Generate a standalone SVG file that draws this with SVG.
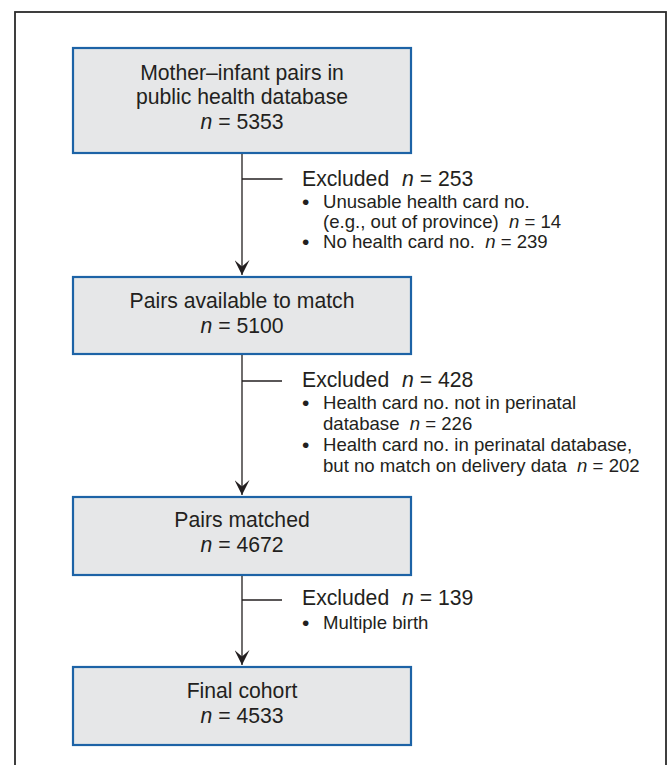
<svg xmlns="http://www.w3.org/2000/svg" width="669" height="765" viewBox="0 0 669 765">
  <style>
    .frame { fill: #ffffff; stroke: #2b2b2b; stroke-width: 1.8; }
    .box { fill: #e6e7e8; stroke: #1d63a6; stroke-width: 2.2; }
    .t { font-family: "Liberation Sans", Arial, sans-serif; fill: #231f20; }
    .main { font-size: 21.2px; text-anchor: middle; }
    .ex { font-size: 21.2px; }
    .bl { font-size: 18.6px; }
    .dot { font-size: 21px; }
    .i { font-style: italic; }
    .conn { stroke: #231f20; stroke-width: 1.3; fill: none; }
  </style>
  <defs>
    <marker id="arrow" viewBox="0 0 15 15" refX="15" refY="7.5" markerWidth="15" markerHeight="15" markerUnits="userSpaceOnUse" orient="auto">
      <path d="M0,0 L15,7.5 L0,15 L6.5,7.5 Z" fill="#231f20"/>
    </marker>
  </defs>

  <rect class="frame" x="15" y="12" width="651" height="770"/>

  <g id="node-database">
    <rect class="box" x="73" y="48" width="338" height="105"/>
    <text class="t main" x="242" y="79.5">Mother–infant pairs in</text>
    <text class="t main" x="242" y="104">public health database</text>
    <text class="t main" x="242" y="128.5"><tspan class="i">n</tspan> = 5353</text>
  </g>

  <g id="node-available">
    <rect class="box" x="73" y="277" width="338" height="77"/>
    <text class="t main" x="242" y="308">Pairs available to match</text>
    <text class="t main" x="242" y="332.5"><tspan class="i">n</tspan> = 5100</text>
  </g>

  <g id="node-matched">
    <rect class="box" x="73" y="497" width="338" height="78"/>
    <text class="t main" x="242" y="527">Pairs matched</text>
    <text class="t main" x="242" y="551.5"><tspan class="i">n</tspan> = 4672</text>
  </g>

  <g id="node-final">
    <rect class="box" x="73" y="667" width="338" height="78"/>
    <text class="t main" x="242" y="698">Final cohort</text>
    <text class="t main" x="242" y="722.5"><tspan class="i">n</tspan> = 4533</text>
  </g>

  <g id="excluded-1">
    <text class="t ex" x="302" y="186">Excluded <tspan class="i" dx="7">n</tspan> = 253</text>
    <text class="t dot" x="302" y="209">•</text>
    <text class="t bl" x="323" y="208">Unusable health card no.</text>
    <text class="t bl" x="323" y="228">(e.g., out of province) <tspan class="i" dx="5">n</tspan> = 14</text>
    <text class="t dot" x="302" y="249">•</text>
    <text class="t bl" x="323" y="248">No health card no. <tspan class="i" dx="5">n</tspan> = 239</text>
  </g>

  <g id="excluded-2">
    <text class="t ex" x="302" y="387">Excluded <tspan class="i" dx="7">n</tspan> = 428</text>
    <text class="t dot" x="302" y="410">•</text>
    <text class="t bl" x="323" y="409">Health card no. not in perinatal</text>
    <text class="t bl" x="323" y="430">database <tspan class="i" dx="5">n</tspan> = 226</text>
    <text class="t dot" x="302" y="452">•</text>
    <text class="t bl" x="323" y="451">Health card no. in perinatal database,</text>
    <text class="t bl" x="323" y="472">but no match on delivery data <tspan class="i" dx="5">n</tspan> = 202</text>
  </g>

  <g id="excluded-3">
    <text class="t ex" x="302" y="605">Excluded <tspan class="i" dx="7">n</tspan> = 139</text>
    <text class="t dot" x="302" y="630">•</text>
    <text class="t bl" x="323" y="629">Multiple birth</text>
  </g>

  <g id="connectors">
    <line class="conn" x1="242" y1="154" x2="242" y2="275" marker-end="url(#arrow)"/>
    <line class="conn" x1="242" y1="179" x2="282.5" y2="179"/>
    <line class="conn" x1="242" y1="355" x2="242" y2="495" marker-end="url(#arrow)"/>
    <line class="conn" x1="242" y1="381" x2="282" y2="381"/>
    <line class="conn" x1="242" y1="576" x2="242" y2="665" marker-end="url(#arrow)"/>
    <line class="conn" x1="242" y1="600" x2="282" y2="600"/>
  </g>
</svg>
